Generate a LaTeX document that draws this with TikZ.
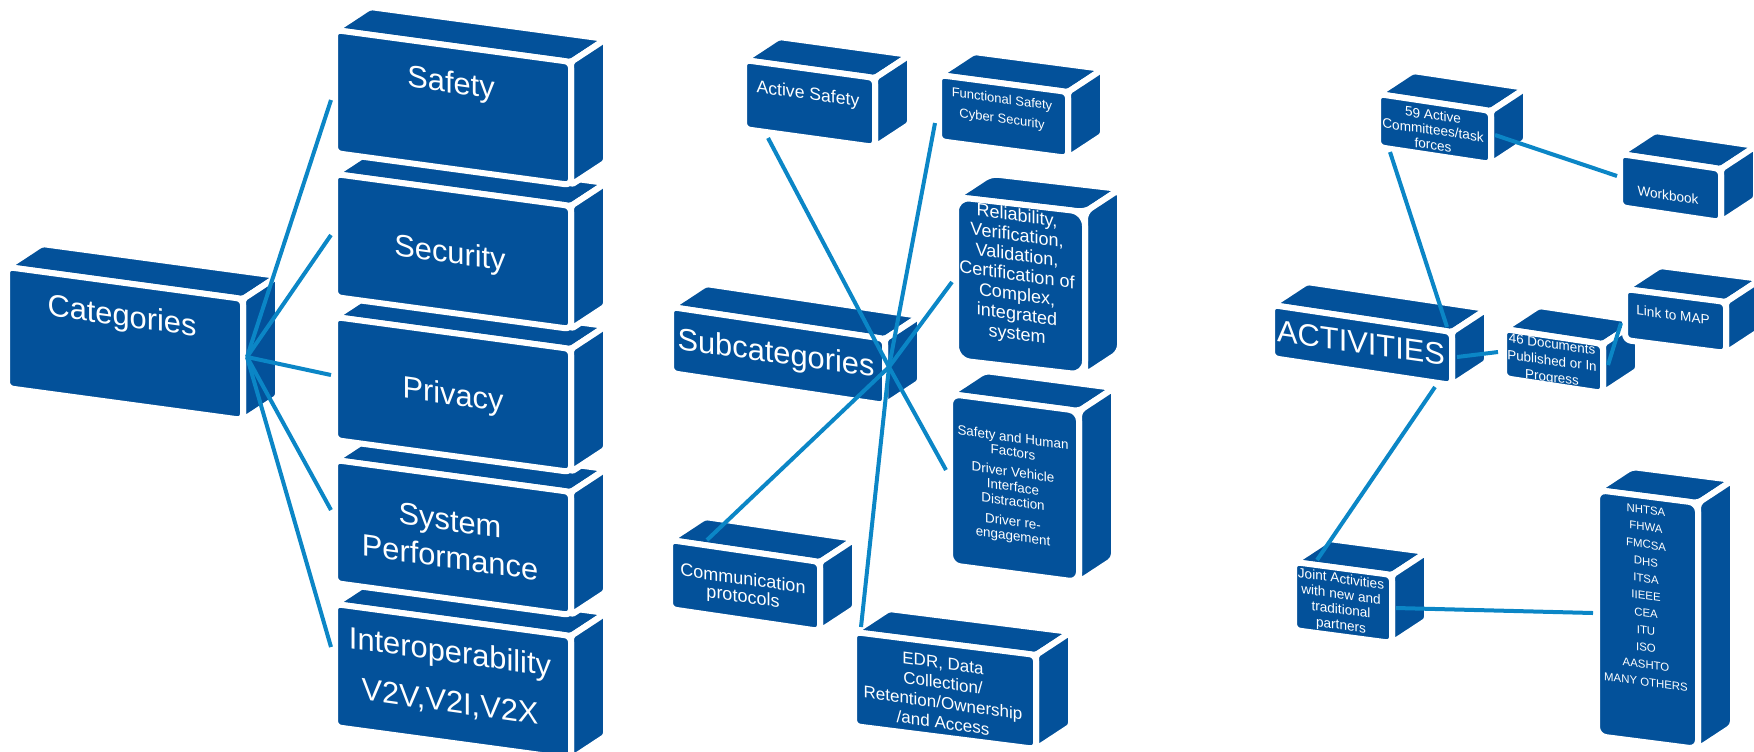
\documentclass[tikz,border=0pt]{standalone}
\usepackage{fontspec}
\setmainfont{Liberation Sans}
\usepackage{tikz}
\usetikzlibrary{calc}
\definecolor{blockblue}{HTML}{03519A}
\definecolor{linkblue}{HTML}{0B86C6}

% 3D block: [corner radius]{name}{x}{y}{width}{height}{drop of top edge}
\newcommand{\drawblock}[7][3pt]{%
  \coordinate (#2-tl) at (#3-3,#4-3);
  \coordinate (#2-tr) at (#3+#5+3,#4+#7-3);
  \coordinate (#2-br) at (#3+#5+3,#4+#7+#6+3);
  \coordinate (#2-bl) at (#3-3,#4+#6+3);
  \filldraw[face, rounded corners=#1/2] (#2-tl) -- (#2-tr) -- ++(35,-23) -- ($(#2-tl)+(35,-23)$) -- cycle;
  \filldraw[face, rounded corners=#1/2] (#2-tr) -- (#2-br) -- ++(35,-23) -- ($(#2-tr)+(35,-23)$) -- cycle;
  \filldraw[face, rounded corners=#1] (#2-tl) -- (#2-tr) -- (#2-br) -- (#2-bl) -- cycle;
}

\begin{document}
\begin{tikzpicture}[x=0.5pt, y=-0.5pt,
    face/.style={fill=blockblue, draw=white, line width=3pt, line join=round},
    link/.style={draw=linkblue, line width=2pt},
    facetext/.style={text=white, align=center, inner sep=0pt, yslant=-0.14},
    bigtext/.style={facetext, font=\fontsize{15.4}{18.5}\selectfont}]
    \useasboundingbox (0,0) rectangle (1754,751);
    \clip (0,0) rectangle (1754,751);

    % === CATEGORIES ===
    \drawblock{cat}{10}{270}{230}{115}{32}
    \foreach \name/\y in {interop/607, sysperf/463, privacy/320, security/177, safety/33} {
        \drawblock{\name}{338}{\y}{230}{117}{32}
    }

    \node[bigtext] (categories) at (122,318) {Categories};
    \node[bigtext] (safety-label) at (451,85) {Safety};
    \node[bigtext] (security-label) at (450,255) {Security};
    \node[bigtext] (privacy-label) at (453,397) {Privacy};
    \node[bigtext] (sysperf-label) at (450,539) {System\\Performance};
    \node[bigtext, font=\fontsize{15.4}{25}\selectfont] (interop-label) at (450,678) {Interoperability\\V2V,V2I,V2X};

    % === SUBCATEGORIES ===
    \drawblock{subcat}{674}{310}{208}{60}{32}
    \drawblock{actsafe}{747}{63}{125}{63}{18}
    \drawblock{funcsafe}{942}{78}{123}{60}{17}
    \drawblock[5pt]{sfhuman}{953}{397}{123}{165}{17}
    \drawblock[7pt]{reliab}{959}{200}{123}{157}{15}
    \drawblock{comm}{673}{543}{144}{63}{22}
    \drawblock{edr}{857}{635}{176}{88}{23}

    \node[bigtext] (subcategories) at (776,355) {Subcategories};
    \node[facetext, font=\fontsize{8.8}{10}\selectfont] (actsafe-label) at (808,95) {Active Safety};
    \node[facetext, font=\fontsize{6.5}{10}\selectfont] (funcsafe-label) at (1002,110) {Functional Safety\\Cyber Security};
    \node[facetext, font=\fontsize{9}{9.9}\selectfont] (reliab-label) at (1017,276)
        {Reliability,\\Verification,\\Validation,\\Certification of\\Complex,\\integrated\\system};
    \node[facetext, font=\fontsize{6.7}{7.4}\selectfont] (sfhuman-label) at (1013,488)
        {Safety and Human\\Factors\\[2.5pt]Driver Vehicle\\Interface\\Distraction\\[2.5pt]Driver re-\\engagement};
    \node[facetext, font=\fontsize{9}{9}\selectfont] (comm-label) at (743,589) {Communication\\protocols};
    \node[facetext, font=\fontsize{8.5}{10}\selectfont] (edr-label) at (943,693)
        {EDR, Data\\Collection/\\Retention/Ownership\\/and Access};

    % === ACTIVITIES ===
    \drawblock{activ}{1275}{308}{174}{47}{27}
    \drawblock{comm59}{1381}{97}{107}{47}{17}
    \drawblock{workbook}{1623}{157}{95}{47}{15}
    \drawblock{docs46}{1507}{332}{93}{43}{15}
    \drawblock{linkmap}{1628}{292}{95}{45}{13}
    \drawblock{joint}{1297}{565}{92}{62}{13}
    \drawblock[4.5pt]{agencies}{1600}{493}{95}{240}{13}

    \node[bigtext] (activities) at (1361,343) {ACTIVITIES};
    \node[facetext, font=\fontsize{6.8}{7.5}\selectfont] (comm59-label) at (1433,130) {59 Active\\Committees/task\\forces};
    \node[facetext, font=\fontsize{6.8}{8}\selectfont] (workbook-label) at (1668,195) {Workbook};
    \node[facetext, font=\fontsize{6.8}{8}\selectfont] (linkmap-label) at (1673,315) {Link to MAP};
    \node[facetext, font=\fontsize{6.7}{8.3}\selectfont] (docs46-label) at (1552,362) {46 Documents\\Published or In\\Progress};
    \node[facetext, font=\fontsize{6.8}{7.7}\selectfont] (joint-label) at (1341,603) {Joint Activities\\with new and\\traditional\\partners};
    \node[facetext, font=\fontsize{5.7}{8.6}\selectfont] (agencies-label) at (1646,596)
        {NHTSA\\FHWA\\FMCSA\\DHS\\ITSA\\IIEEE\\CEA\\ITU\\ISO\\AASHTO\\MANY OTHERS};

    % Connector ends
    \coordinate (cat-hub) at (247,357);
    \coordinate (safety-in) at (331,100);
    \coordinate (security-in) at (331,235);
    \coordinate (privacy-in) at (331,375);
    \coordinate (sysperf-in) at (331,510);
    \coordinate (interop-in) at (331,647);

    \coordinate (subcat-hub) at (889,367);
    \coordinate (actsafe-in) at (768,138);
    \coordinate (funcsafe-in) at (935,123);
    \coordinate (reliab-in) at (952,282);
    \coordinate (sfhuman-in) at (946,470);
    \coordinate (edr-in) at (861,627);
    \coordinate (comm-in) at (707,540);

    \coordinate (activ-n) at (1447,327);
    \coordinate (activ-e) at (1457,357);
    \coordinate (activ-s) at (1435,387);
    \coordinate (comm59-in) at (1390,152);
    \coordinate (comm59-out) at (1495,135);
    \coordinate (workbook-in) at (1617,176);
    \coordinate (docs46-in) at (1498,352);
    \coordinate (docs46-out) at (1608,365);
    \coordinate (linkmap-in) at (1621,323);
    \coordinate (joint-in) at (1317,560);
    \coordinate (joint-out) at (1396,608);
    \coordinate (agencies-in) at (1593,613);

    % Connectors
    \foreach \name in {safety,security,privacy,sysperf,interop}
        \draw[link] (cat-hub) -- (\name-in);
    \foreach \name in {actsafe,funcsafe,reliab,sfhuman,edr,comm}
        \draw[link] (subcat-hub) -- (\name-in);
    \draw[link] (activ-n) -- (comm59-in);
    \draw[link] (activ-e) -- (docs46-in);
    \draw[link] (activ-s) -- (joint-in);
    \draw[link] (comm59-out) -- (workbook-in);
    \draw[link] (docs46-out) -- (linkmap-in);
    \draw[link] (joint-out) -- (agencies-in);
\end{tikzpicture}
\end{document}
